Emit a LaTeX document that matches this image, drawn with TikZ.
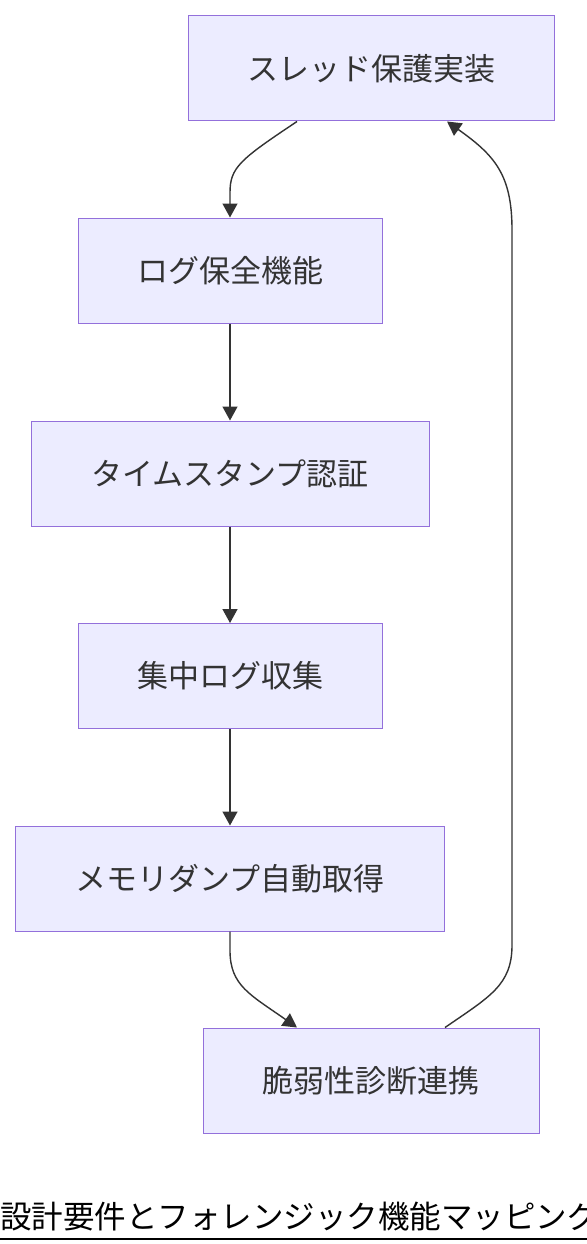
\documentclass[tikz,border=0pt]{standalone}
\usepackage{fontspec}
\setmainfont{Noto Sans CJK JP}
\usetikzlibrary{arrows.meta}
\definecolor{boxfill}{HTML}{ECECFF}
\definecolor{boxline}{HTML}{9370DB}
\definecolor{ink}{HTML}{333333}
\tikzset{
  flowbox/.style={draw=boxline, fill=boxfill, line width=1pt, text=ink,
    minimum height=105pt, inner sep=0pt, font=\fontsize{31}{37}\selectfont},
  flowedge/.style={draw=ink, line width=1.4pt, -{Triangle[length=14pt,width=15pt]}},
}
\begin{document}
\begin{tikzpicture}[x=1pt,y=-1pt]
\useasboundingbox (0,0) rectangle (586,1244);
\fill[white] (0,0) rectangle (586,1244);
\node[flowbox, minimum width=366pt] (n1) at (371,68.5) {スレッド保護実装};
\node[flowbox, minimum width=304pt] (n2) at (230,270.5) {ログ保全機能};
\node[flowbox, minimum width=398pt] (n3) at (230,473.5) {タイムスタンプ認証};
\node[flowbox, minimum width=304pt] (n4) at (230,676) {集中ログ収集};
\node[flowbox, minimum width=429pt] (n5) at (230,878.5) {メモリダンプ自動取得};
\node[flowbox, minimum width=336pt] (n6) at (371,1080.5) {脆弱性診断連携};
\draw[flowedge] ([xshift=-74pt]n1.south) .. controls +(-57,38) and +(0,-25) .. ([yshift=25pt]n2.north) -- (n2.north);
\draw[flowedge] (n2) -- (n3);
\draw[flowedge] (n3) -- (n4);
\draw[flowedge] (n4) -- (n5);
\draw[flowedge] (n5.south) -- ([yshift=-19pt]n5.south) .. controls +(0,35) and +(-47,-33) .. ([xshift=-74pt]n6.north);
\coordinate (rb) at (512,945);
\coordinate (rt) at (512,230);
\draw[flowedge] ([xshift=74pt]n6.north) .. controls +(45,-31) and +(0,40) .. (rb) -- (rt) .. controls +(0,-55) and +(48,34) .. ([xshift=76pt]n1.south);
\node[anchor=base west, inner sep=0pt, text=black, font=\fontsize{31.5}{38}\selectfont] (title) at (0,1228) {設計要件とフォレンジック機能マッピング};
\draw[black, line width=2pt] ([yshift=-11pt]title.base west) -- ([yshift=-11pt]title.base east);
\end{tikzpicture}
\end{document}
